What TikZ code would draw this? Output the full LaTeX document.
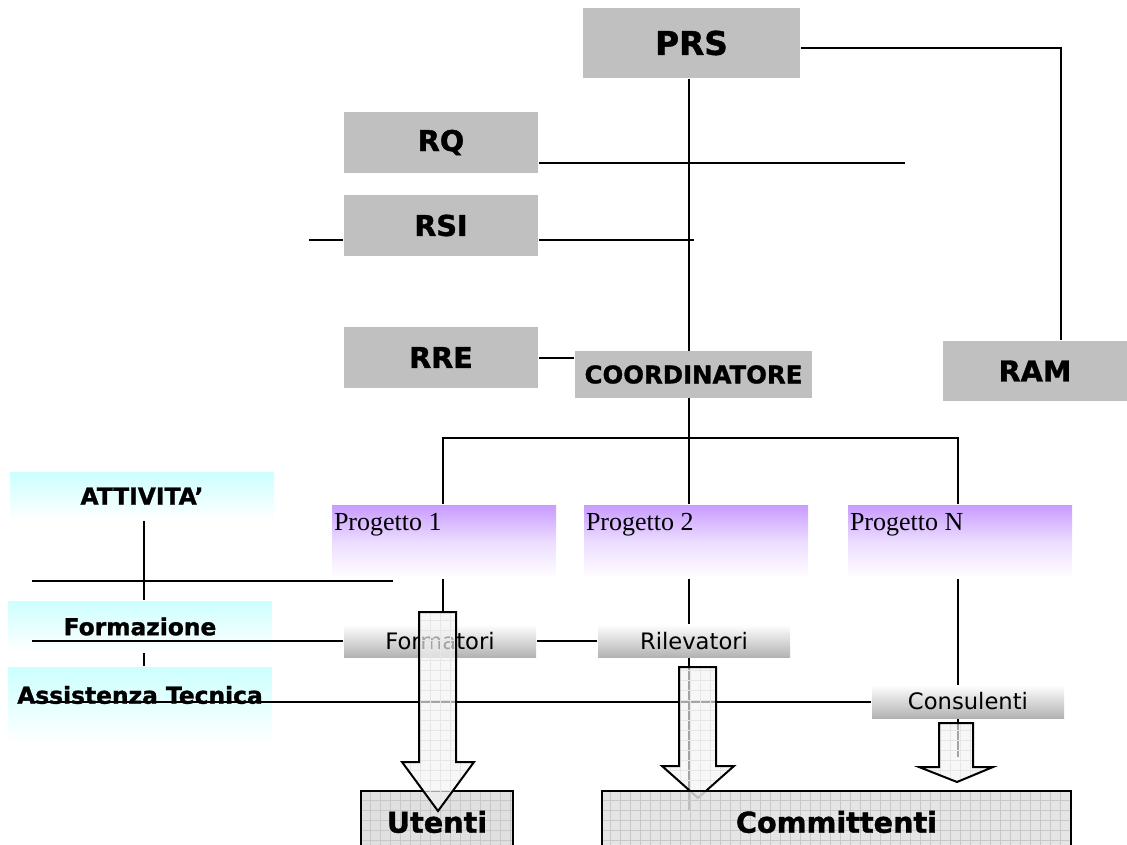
\documentclass[tikz,border=0pt]{standalone}
\usepackage{fontspec}
\setmainfont{DejaVu Sans}[BoldFeatures={FakeBold=1.3}]
\newfontfamily\progfont{Liberation Serif}
\usetikzlibrary{calc}
\definecolor{boxgray}{RGB}{192,192,192}
\definecolor{prpl}{RGB}{200,155,255}
\definecolor{cyanl}{RGB}{204,255,255}
\definecolor{midg}{RGB}{178,178,178}
\definecolor{arrf}{RGB}{243,243,243}
\definecolor{tgtf}{RGB}{224,224,224}
\definecolor{gridc}{RGB}{200,200,200}
\definecolor{gridl}{RGB}{230,230,230}
\newcommand{\myarrowpath}[8]{(#1,#3) -- (#2,#3) -- (#2,#4) -- (#6,#4) -- (#7,#8) -- (#5,#4) -- (#1,#4) -- cycle}
\newcommand{\myblockarrow}[8]{%
  \begin{scope}
    \clip \myarrowpath{#1}{#2}{#3}{#4}{#5}{#6}{#7}{#8};
    \fill[arrf, fill opacity=0.68] \myarrowpath{#1}{#2}{#3}{#4}{#5}{#6}{#7}{#8};
    \foreach \gx in {400,410,...,1000} \draw[gridl, line width=0.5pt] (\gx,#3) -- (\gx,#8);
    \foreach \gy in {600,610,...,820} \draw[gridl, line width=0.5pt] (#5,\gy) -- (#6,\gy);
  \end{scope}
  \draw[line width=1.5pt, line join=miter] \myarrowpath{#1}{#2}{#3}{#4}{#5}{#6}{#7}{#8};
}
\begin{document}
\begin{tikzpicture}[x=0.75pt, y=-0.75pt, line width=1.5pt,
  gbox/.style={fill=boxgray, draw=none, inner sep=0pt, font=\bfseries\fontsize{21.5}{24}\selectfont},
  prog/.style={top color=prpl, bottom color=white, middle color=prpl!35!white, draw=none, inner sep=0pt, minimum width=168pt, minimum height=54.75pt},
  progtxt/.style={anchor=north west, inner xsep=1.5pt, inner ysep=6pt, font=\progfont\fontsize{19.5}{22}\selectfont},
  actbox/.style={top color=cyanl, bottom color=white, draw=none, inner sep=0pt, minimum width=198pt, font=\bfseries\fontsize{17.5}{20}\selectfont},
  role/.style={top color=white, bottom color=midg, draw=none, inner sep=0pt, minimum width=144pt, minimum height=24.5pt, font=\fontsize{17}{20}\selectfont},
  target/.style={fill=tgtf, draw=none, inner sep=0pt, minimum height=45pt},
  ttxt/.style={font=\bfseries\fontsize{21.5}{24}\selectfont}
]
\useasboundingbox (0,0) rectangle (1127,845);

% helper coordinates
\coordinate (xR) at (1061,0);
\coordinate (xS) at (689,0);
\coordinate (x443) at (443,0);
\coordinate (x958) at (958,0);
\coordinate (bar) at (0,438);
\coordinate (rqend) at (905,163);
\coordinate (rsiend) at (694,240);
\coordinate (rsil) at (309,240);
\coordinate (lx) at (32,0);
\coordinate (actv) at (144,0);
\coordinate (h581) at (393,581);
\coordinate (a1t) at (443,612);
\coordinate (c811) at (0,811);
\coordinate (c757) at (0,757);

% activity boxes (below lines)
\node[actbox, minimum height=36pt] (ATT) at (142,496) {ATTIVITA’};
\node[actbox, minimum height=38.25pt] (FORM) at (140,626.5) {Formazione};
\node[actbox, minimum height=57pt] (ASS) at (140,705) {};
\node[font=\bfseries\fontsize{17.5}{20}\selectfont, inner sep=0pt] (asst) at ([yshift=7.5pt]ASS.center) {Assistenza Tecnica};

% gray boxes
\node[gbox, minimum width=162.75pt, minimum height=52.5pt, font=\bfseries\fontsize{24.5}{28}\selectfont] (PRS) at (691.5,43) {PRS};
\node[gbox, minimum width=145.5pt, minimum height=45.75pt] (RQ) at (441,142.5) {RQ};
\node[gbox, minimum width=145.5pt, minimum height=45.75pt] (RSI) at (441,225.5) {RSI};
\node[gbox, minimum width=145.5pt, minimum height=45.75pt] (RRE) at (441,357.5) {RRE};
\node[gbox, minimum width=138pt, minimum height=45pt] (RAM) at (1035,371) {RAM};

% connectors
\draw ([yshift=-3.75pt]PRS.east) -| (RAM.north -| xR);
\draw (PRS.south -| xS) -- (bar -| xS);
\draw (RQ.east |- rqend) -- (rqend);
\draw (rsil) -- (RSI.west |- rsil);
\draw (RSI.east |- rsil) -- (rsiend);
\draw (ATT.south -| actv) -- (FORM.north -| actv);
\draw (FORM.south -| actv) -- (ASS.north -| actv);
\draw (lx |- h581) -- (h581);

% coordinator
\node[gbox, minimum width=177.75pt, minimum height=35.25pt, font=\bfseries\fontsize{18.3}{21}\selectfont] (COORD) at (693.5,374.5) {COORDINATORE};
\draw (RRE.east) -- (RRE.east -| COORD.west);

% projects
\node[prog] (P1) at (444,541.5) {};
\node[prog] (P2) at (696,541.5) {};
\node[prog] (PN) at (960,541.5) {};
\node[progtxt] (P1t) at (P1.north west) {Progetto 1};
\node[progtxt] (P2t) at (P2.north west) {Progetto 2};
\node[progtxt] (PNt) at (PN.north west) {Progetto N};

\draw (P1.north -| x443) -- (bar -| x443) -- (bar -| x958) -- (PN.north -| x958);
\draw (COORD.south -| xS) -- (P2.north -| xS);

% roles
\node[role] (FRM) at (440,641) {Formatori};
\node[role] (RIL) at (694,641) {Rilevatori};
\draw (FRM.west) -- (FRM.west -| lx);
\draw (FRM.east) -- (RIL.west);
\draw (P1.south -| x443) -- (a1t);
\draw (P2.south -| xS) -- (RIL.north -| xS);
\draw (RIL.south -| xS) -- (xS |- c811);
\draw (PN.south -| x958) -- (x958 |- c757);
\node[role, minimum height=24.75pt] (CONS) at (968,701.5) {Consulenti};
\draw (CONS.west) -- (CONS.west -| lx);

% Utenti box
\node[target, minimum width=112.5pt] (UT) at (437,822) {};
\begin{scope}
  \clip (UT.south west) rectangle (UT.north east);
  \foreach \gx in {370,380,...,520} \draw[gridc, line width=0.5pt] (\gx,780) -- (\gx,860);
  \foreach \gy in {800,810,...,850} \draw[gridc, line width=0.5pt] (350,\gy) -- (530,\gy);
\end{scope}
\draw (UT.south west) -- (UT.north west) -- (UT.north east) -- (UT.south east);
\node[ttxt] (UTt) at (UT.center) {Utenti};

% block arrows
\myblockarrow{419}{456}{612}{762}{402}{474}{438}{811}
\myblockarrow{939}{973}{723}{767}{919}{993}{957}{782}
\myblockarrow{679}{716}{667}{766}{662}{734}{698}{798}

% Committenti box
\node[target, minimum width=350.25pt, fill opacity=0.85] (CM) at (836.5,822) {};
\begin{scope}
  \clip (CM.south west) rectangle (CM.north east);
  \foreach \gx in {610,620,...,1070} \draw[gridc, line width=0.5pt] (\gx,780) -- (\gx,860);
  \foreach \gy in {800,810,...,850} \draw[gridc, line width=0.5pt] (590,\gy) -- (1080,\gy);
\end{scope}
\draw (CM.south west) -- (CM.north west) -- (CM.north east) -- (CM.south east);
\node[ttxt] (CMt) at (CM.center) {Committenti};
\end{tikzpicture}
\end{document}
